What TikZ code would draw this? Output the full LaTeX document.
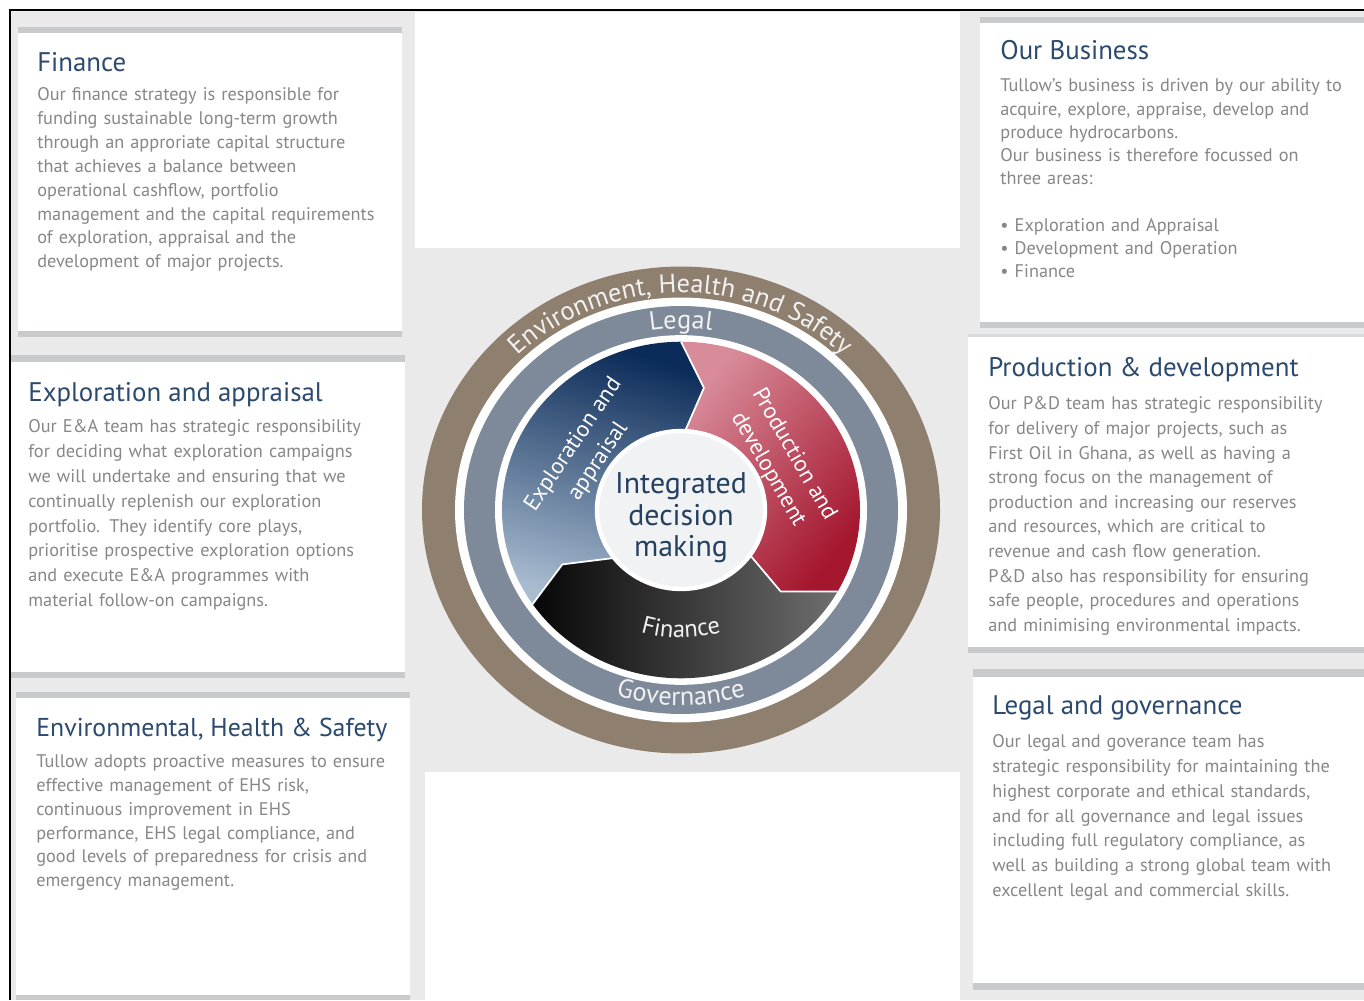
\documentclass[tikz,border=0pt]{standalone}
\usepackage{fontspec}
\setmainfont{PT Sans}
\usepackage{tikz}
\usetikzlibrary{decorations.text}
\definecolor{pageGray}{HTML}{EAEAEA}
\definecolor{barGray}{HTML}{C9CACC}
\definecolor{titleBlue}{HTML}{2B4A6D}
\definecolor{bodyGray}{HTML}{878787}
\definecolor{ehsBrown}{HTML}{8E7F6E}
\definecolor{ringSlate}{HTML}{7E8999}
\definecolor{ringText}{HTML}{F1F1F1}
\definecolor{eaDark}{HTML}{0B2B58}
\definecolor{eaLight}{HTML}{A9BCD0}
\definecolor{pdLight}{HTML}{D88C9A}
\definecolor{pdDark}{HTML}{A5172F}
\definecolor{finDark}{HTML}{060606}
\definecolor{finLight}{HTML}{6E6E6E}
\definecolor{coreFill}{HTML}{F1F2F4}
\definecolor{coreText}{HTML}{25405F}
\tikzset{
  panelFill/.style={fill=white},
  panelBar/.style={fill=barGray},
  panelTitle/.style={anchor=base west, inner sep=0pt, text=titleBlue, font=\fontsize{15.3}{17}\selectfont},
  panelBody/.style={anchor=base west, inner sep=0pt, text=bodyGray, text width=8cm, align=left, font=\fontsize{10.4}{#1}\selectfont},
  panelBody/.default=13.5,
  segGap/.style={white, line width=1pt, line join=round},
  segLabel/.style={text=white, align=center, inner sep=0pt, font=\fontsize{13}{17}\selectfont},
  coreLabel/.style={text=coreText, align=center, inner sep=0pt, font=\fontsize{17}{18}\selectfont},
  ringLabel/.style={decorate, decoration={text along path, text align=center, text color=ringText, text={#1}}}
}

\begin{document}
\begin{tikzpicture}[x=0.02cm, y=0.02cm]
  \useasboundingbox (0,0) rectangle (1364,1000);
  \fill[white] (0,0) rectangle (1364,1000);
  \fill[pageGray] (10,0) rectangle (1364,990);

  % centre column
  \fill[white] (415,752) rectangle (960,988);
  \fill[white] (425,0) rectangle (960,228);

  % left panels
  \fill[panelFill] (18,663) rectangle (402,973);
  \fill[panelBar] (18,967) rectangle (402,973);
  \fill[panelBar] (18,663) rectangle (402,669);
  \fill[panelFill] (10,322) rectangle (405,645);
  \fill[panelBar] (10,638) rectangle (405,645);
  \fill[panelBar] (10,322) rectangle (405,328);
  \fill[panelFill] (16,0) rectangle (410,308);
  \fill[panelBar] (16,302) rectangle (410,308);
  \fill[panelBar] (16,0) rectangle (410,5);

  % right panels
  \fill[panelFill] (980,672) rectangle (1364,983);
  \fill[panelBar] (980,977) rectangle (1364,983);
  \fill[panelBar] (980,672) rectangle (1364,678);
  \fill[panelFill] (968,347) rectangle (1364,666);
  \fill[barGray!70!white] (968,663) rectangle (1364,666);
  \fill[panelBar] (968,347) rectangle (1364,353);
  \fill[panelFill] (973,10) rectangle (1364,331);
  \fill[panelBar] (973,323) rectangle (1364,331);
  \fill[panelBar] (973,10) rectangle (1364,17);

  \draw[black, line width=1.4pt] (10,0) -- (10,990) -- (1364,990);

  % rings and segments
  \begin{scope}[shift={(681,490)}, yscale=0.94]
    \fill[ehsBrown] (0,0) circle (259);
    \fill[white] (0,0) circle (226);
    \fill[ringSlate] (0,0) circle (217);
    \fill[white] (0,0) circle (186);

    \shade[top color=eaDark, middle color=eaDark!88!eaLight, bottom color=eaLight, shading angle=-15]
      (214:179) arc[start angle=214, end angle=90, radius=179] -- (80:132) -- (87:85)
      arc[start angle=87, end angle=217, radius=85] -- (206:132) -- cycle;
    \shade[top color=pdLight, middle color=pdDark, bottom color=pdDark, shading angle=50]
      (90:179) arc[start angle=90, end angle=-29, radius=179] -- (-41:132) -- (-35:85)
      arc[start angle=-35, end angle=87, radius=85] -- (80:132) -- cycle;
    \shade[left color=finDark, right color=finLight]
      (-29:179) arc[start angle=-29, end angle=-146, radius=179] -- (-154:132) -- (-143:85)
      arc[start angle=-143, end angle=-35, radius=85] -- (-41:132) -- cycle;

    \draw[segGap] (90:179) -- (80:132) -- (87:85);
    \draw[segGap] (-29:179) -- (-41:132) -- (-35:85);
    \draw[segGap] (214:179) -- (206:132) -- (217:85);

    \draw[white, line width=2.5pt, fill=coreFill] (0,0) circle (84);

    \path[ringLabel={|\fontsize{15}{15}\selectfont|Environment, Health and Safety}]
      (165:231) arc[start angle=165, end angle=15, radius=231];
    \path[ringLabel={|\fontsize{15}{15}\selectfont|Legal}]
      (125:193) arc[start angle=125, end angle=55, radius=193];
    \path[ringLabel={|\fontsize{15}{15}\selectfont|Governance}]
      (230:208) arc[start angle=230, end angle=310, radius=208];
    \path[ringLabel={|\fontsize{14}{14}\selectfont|Finance}]
      (240:136) arc[start angle=240, end angle=300, radius=136];
  \end{scope}

  \node[coreLabel] (core) at (681,482) {Integrated\\decision\\making};
  \node[segLabel, rotate=56] (eaLabel) at (586,547) {Exploration and\\appraisal};
  \node[segLabel, rotate=-60] (pdLabel) at (781,538) {Production and\\development};

  % panel texts
  \node[panelTitle] (finTitle) at (37,928) {Finance};
  \node[panelBody=13.55] (finBody) at (37,899) {Our finance strategy is responsible for\\
    funding sustainable long-term growth\\
    through an approriate capital structure\\
    that achieves a balance between\\
    operational cashflow, portfolio\\
    management and the capital requirements\\
    of exploration, appraisal and the\\
    development of major projects.};

  \node[panelTitle] (eaTitle) at (28,598) {Exploration and appraisal};
  \node[panelBody=14.1] (eaBody) at (28,567) {Our E\&A team has strategic responsibility\\
    for deciding what exploration campaigns\\
    we will undertake and ensuring that we\\
    continually replenish our exploration\\
    portfolio. They identify core plays,\\
    prioritise prospective exploration options\\
    and execute E\&A programmes with\\
    material follow-on campaigns.};

  \node[panelTitle, font=\fontsize{14.7}{17}\selectfont] (ehsTitle) at (36,263) {Environmental, Health \& Safety};
  \node[panelBody=13.5] (ehsBody) at (36,232) {Tullow adopts proactive measures to ensure\\
    effective management of EHS risk,\\
    continuous improvement in EHS\\
    performance, EHS legal compliance, and\\
    good levels of preparedness for crisis and\\
    emergency management.};

  \node[panelTitle] (bizTitle) at (1000,940) {Our Business};
  \node[panelBody=13.2] (bizBody) at (1000,908) {Tullow’s business is driven by our ability to\\
    acquire, explore, appraise, develop and\\
    produce hydrocarbons.\\
    Our business is therefore focussed on\\
    three areas:\\[13.2pt]
    • Exploration and Appraisal\\
    • Development and Operation\\
    • Finance};

  \node[panelTitle] (pdTitle) at (988,623) {Production \& development};
  \node[panelBody=14] (pdBody) at (988,590) {Our P\&D team has strategic responsibility\\
    for delivery of major projects, such as\\
    First Oil in Ghana, as well as having a\\
    strong focus on the management of\\
    production and increasing our reserves\\
    and resources, which are critical to\\
    revenue and cash flow generation.\\
    P\&D also has responsibility for ensuring\\
    safe people, procedures and operations\\
    and minimising environmental impacts.};

  \node[panelTitle] (lgTitle) at (992,285) {Legal and governance};
  \node[panelBody=14.05] (lgBody) at (992,252) {Our legal and goverance team has\\
    strategic responsibility for maintaining the\\
    highest corporate and ethical standards,\\
    and for all governance and legal issues\\
    including full regulatory compliance, as\\
    well as building a strong global team with\\
    excellent legal and commercial skills.};
\end{tikzpicture}
\end{document}
